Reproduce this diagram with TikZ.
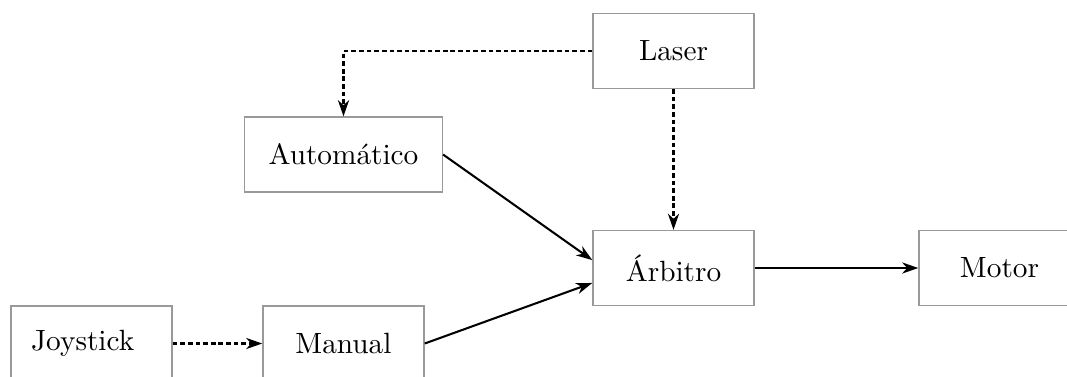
\documentclass[tikz,border=0pt]{standalone}
\usetikzlibrary{arrows.meta}
\tikzset{
  block/.style={draw=black!40, line width=0.45pt, fill=white,
    minimum width=55pt, minimum height=25.6pt, inner xsep=8.2pt},
  link/.style={line width=0.7pt, -{Stealth[length=5.5pt, width=3.8pt, inset=1.7pt]}},
  cue/.style={link, dash pattern=on 1.6pt off 1pt}
}
\begin{document}
\begin{tikzpicture}[x=0.3413pt, y=-0.3413pt]
  \useasboundingbox (0,0) rectangle (1067,376);
  \clip (0,0) rectangle (1067,376);
  % blocks
  \node[block] (laser) at (673.5,51) {Laser};
  \node[block] (auto)  at (343.5,154.5) {Automático};
  \node[block] (arb)   at (673.5,268) {Árbitro};
  \node[block] (motor) at (999.5,268) {Motor};
  \node[block, inner xsep=2pt] (joy) at (91.5,343.5) {Joystick\kern6pt};
  \node[block] (man)   at (343.5,343.5) {Manual};
  % signal flow
  \draw[cue] (laser.west) -| (auto.north);
  \draw[cue] (laser.south) -- (arb.north);
  \draw[link] (auto.east) -- ([yshift=2.7pt]arb.west);
  \draw[link] (man.east) -- ([yshift=-5.1pt]arb.west);
  \draw[link] (arb.east) -- (motor.west);
  \draw[cue] (joy.east) -- (man.west);
\end{tikzpicture}
\end{document}
